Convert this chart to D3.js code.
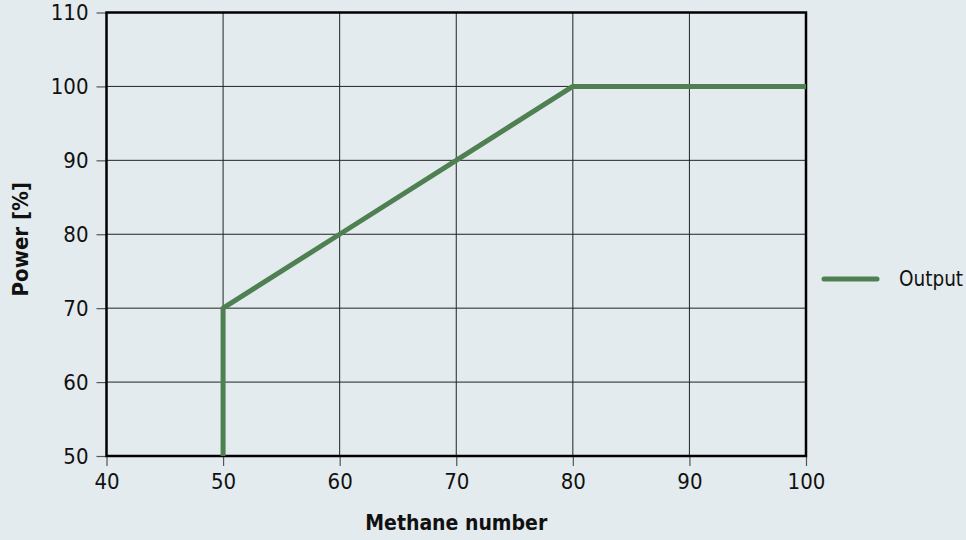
<!DOCTYPE html>
<html>
<head>
<meta charset="utf-8">
<script src="https://cdn.jsdelivr.net/npm/d3@7"></script>
<style>
  body { margin: 0; background: #e4ebee; }
  svg { display: block; }
  text { font-family: "DejaVu Sans Condensed", "DejaVu Sans", sans-serif; font-stretch: condensed; fill: #111; }
</style>
</head>
<body>
<svg id="chart" width="966" height="540"></svg>
<script>
// data
var methane = [50, 50, 60, 70, 80, 100];
var power = [50, 70, 80, 90, 100, 100];
var xTicks = [40, 50, 60, 70, 80, 90, 100];
var yTicks = [50, 60, 70, 80, 90, 100, 110];
var seriesName = 'Output';

// plot box (pixels)
var plotLeft = 106.5, plotRight = 806, plotTop = 12.5, plotBottom = 456;
var green = '#4e8052';

var svg = d3.select('#chart');

var x = d3.scaleLinear().domain([40, 100]).range([plotLeft, plotRight]);
var y = d3.scaleLinear().domain([50, 110]).range([plotBottom, plotTop]);

// grid
svg.append('g').selectAll('line').data(xTicks).join('line')
  .attr('x1', d => x(d)).attr('x2', d => x(d))
  .attr('y1', plotTop).attr('y2', plotBottom)
  .attr('stroke', '#222').attr('stroke-width', 1);
svg.append('g').selectAll('line').data(yTicks).join('line')
  .attr('x1', plotLeft).attr('x2', plotRight)
  .attr('y1', d => y(d)).attr('y2', d => y(d))
  .attr('stroke', '#222').attr('stroke-width', 1);

// axes
var xAxis = svg.append('g').attr('transform', 'translate(0,' + plotBottom + ')')
  .call(d3.axisBottom(x).tickValues(xTicks).tickSize(10).tickPadding(5));
var yAxis = svg.append('g').attr('transform', 'translate(' + plotLeft + ',0)')
  .call(d3.axisLeft(y).tickValues(yTicks).tickSize(10).tickPadding(8));
[xAxis, yAxis].forEach(function(a) {
  a.select('.domain').remove();
  a.selectAll('line').attr('stroke', '#555').attr('stroke-width', 1.2);
  a.selectAll('text').style('font-size', '22px').attr('fill', '#111');
});
xAxis.selectAll('text').attr('dy', '0.8em');

// frame
svg.append('rect')
  .attr('x', plotLeft).attr('y', plotTop)
  .attr('width', plotRight - plotLeft).attr('height', plotBottom - plotTop)
  .attr('fill', 'none').attr('stroke', '#000').attr('stroke-width', 2.5);

// series
var line = d3.line().x(d => x(d[0])).y(d => y(d[1]));
svg.append('path')
  .datum(d3.zip(methane, power))
  .attr('d', line)
  .attr('fill', 'none')
  .attr('stroke', green)
  .attr('stroke-width', 5)
  .attr('stroke-linejoin', 'round');

// axis titles
svg.append('text')
  .attr('x', (plotLeft + plotRight) / 2).attr('y', 530)
  .attr('text-anchor', 'middle')
  .style('font-size', '21px').style('font-weight', 'bold')
  .text('Methane number');
svg.append('text')
  .attr('transform', 'translate(28,' + ((plotTop + plotBottom) / 2 + 5) + ') rotate(-90)')
  .attr('text-anchor', 'middle')
  .style('font-size', '22px').style('font-weight', 'bold')
  .text('Power [%]');

// legend
var lg = svg.append('g').attr('transform', 'translate(822,279)');
lg.append('line').attr('x1', 2).attr('x2', 55)
  .attr('stroke', green).attr('stroke-width', 5).attr('stroke-linecap', 'round');
lg.append('text').attr('x', 77).attr('dy', '0.35em')
  .style('font-size', '20.5px').text(seriesName);
</script>
</body>
</html>
